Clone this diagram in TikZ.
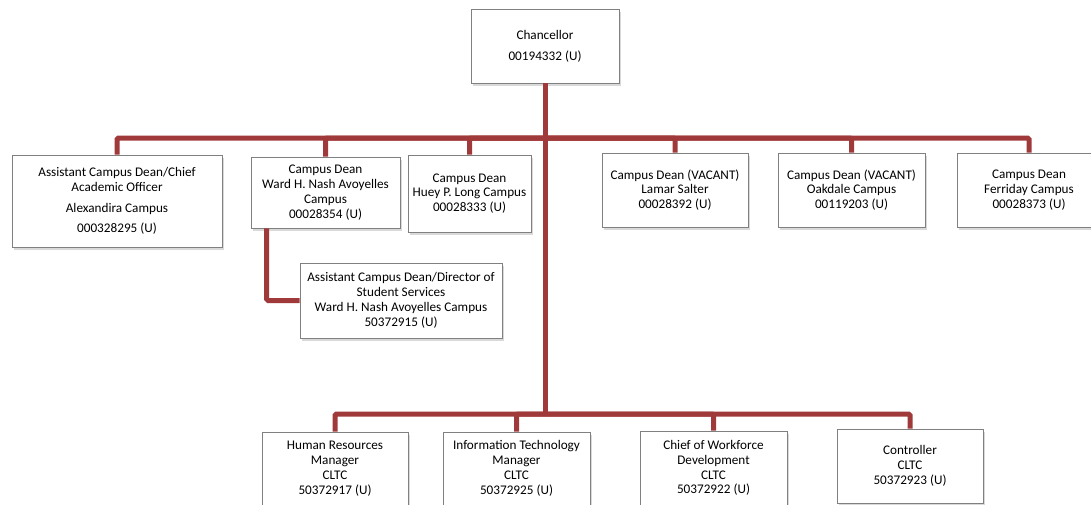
\documentclass[tikz,border=0pt]{standalone}
\usepackage{fontspec}
\setmainfont{Carlito}
\usetikzlibrary{shadows}
\definecolor{barred}{RGB}{160,58,58}
\definecolor{boxgray}{RGB}{128,128,128}
\tikzset{
  post/.style={draw=boxgray, fill=white, line width=0.8pt, align=center,
    minimum width=147pt, minimum height=74pt, inner sep=2pt,
    font=\fontsize{13.2}{14.8}\selectfont,
    drop shadow={shadow xshift=2pt, shadow yshift=-3pt, opacity=0.3}},
  link/.style={draw=barred, line width=5pt, rounded corners=1.5pt}
}
\begin{document}
\begin{tikzpicture}[x=1pt,y=-1pt]
\useasboundingbox (0,0) rectangle (1091,504);
%\draw[help lines,step=50] (0,0) grid (1091,504);
\node[post, minimum width=148pt] (chan) at (545,46) {Chancellor\\[6pt]00194332 (U)};
% first row
\node[post, minimum width=210pt, minimum height=92pt] (acd) at (117,201)
  {Assistant Campus Dean/Chief\\Academic Officer\\[6pt]Alexandira Campus\\[6pt]000328295 (U)};
\node[post, minimum width=149pt, minimum height=71pt] (ward) at (325.5,192.5)
  {Campus Dean\\Ward H. Nash Avoyelles\\Campus\\00028354 (U)};
\node[post, minimum width=123pt, minimum height=77pt] (huey) at (469.5,193.5)
  {Campus Dean\\Huey P. Long Campus\\00028333 (U)};
\node[post, minimum width=146pt] (lamar) at (675,190)
  {Campus Dean (VACANT)\\Lamar Salter\\00028392 (U)};
\node[post] (oak) at (851.5,190)
  {Campus Dean (VACANT)\\Oakdale Campus\\00119203 (U)};
\node[post, minimum width=144pt] (ferr) at (1029,190)
  {Campus Dean\\Ferriday Campus\\00028373 (U)};
\node[post, minimum width=202pt, minimum height=75pt] (asd) at (401,300.5)
  {Assistant Campus Dean/Director of\\Student Services\\Ward H. Nash Avoyelles Campus\\50372915 (U)};
% bottom row
\node[post, minimum width=146pt, minimum height=73pt] (hr) at (335,468.5)
  {Human Resources\\Manager\\CLTC\\50372917 (U)};
\node[post, minimum height=73pt] (it) at (516.5,468.5)
  {Information Technology\\Manager\\CLTC\\50372925 (U)};
\node[post, minimum height=74pt] (cwd) at (713.5,468)
  {Chief of Workforce\\Development\\CLTC\\50372922 (U)};
\node[post, minimum width=146pt] (ctl) at (910,466)
  {Controller\\CLTC\\50372923 (U)};
\coordinate (hub) at (chan.south |- 0,138);
\coordinate (hubb) at (chan.south |- 0,414);
\draw[link] (chan.south) -- (hubb);
\foreach \n in {acd,ward,huey,lamar,oak,ferr} \draw[link] (hub) -| (\n.north);
\foreach \n in {hr,it,cwd,ctl} \draw[link] (hubb) -| (\n.north);
\draw[link] ([xshift=16pt]ward.south west) |- (asd.west);
\end{tikzpicture}
\end{document}
